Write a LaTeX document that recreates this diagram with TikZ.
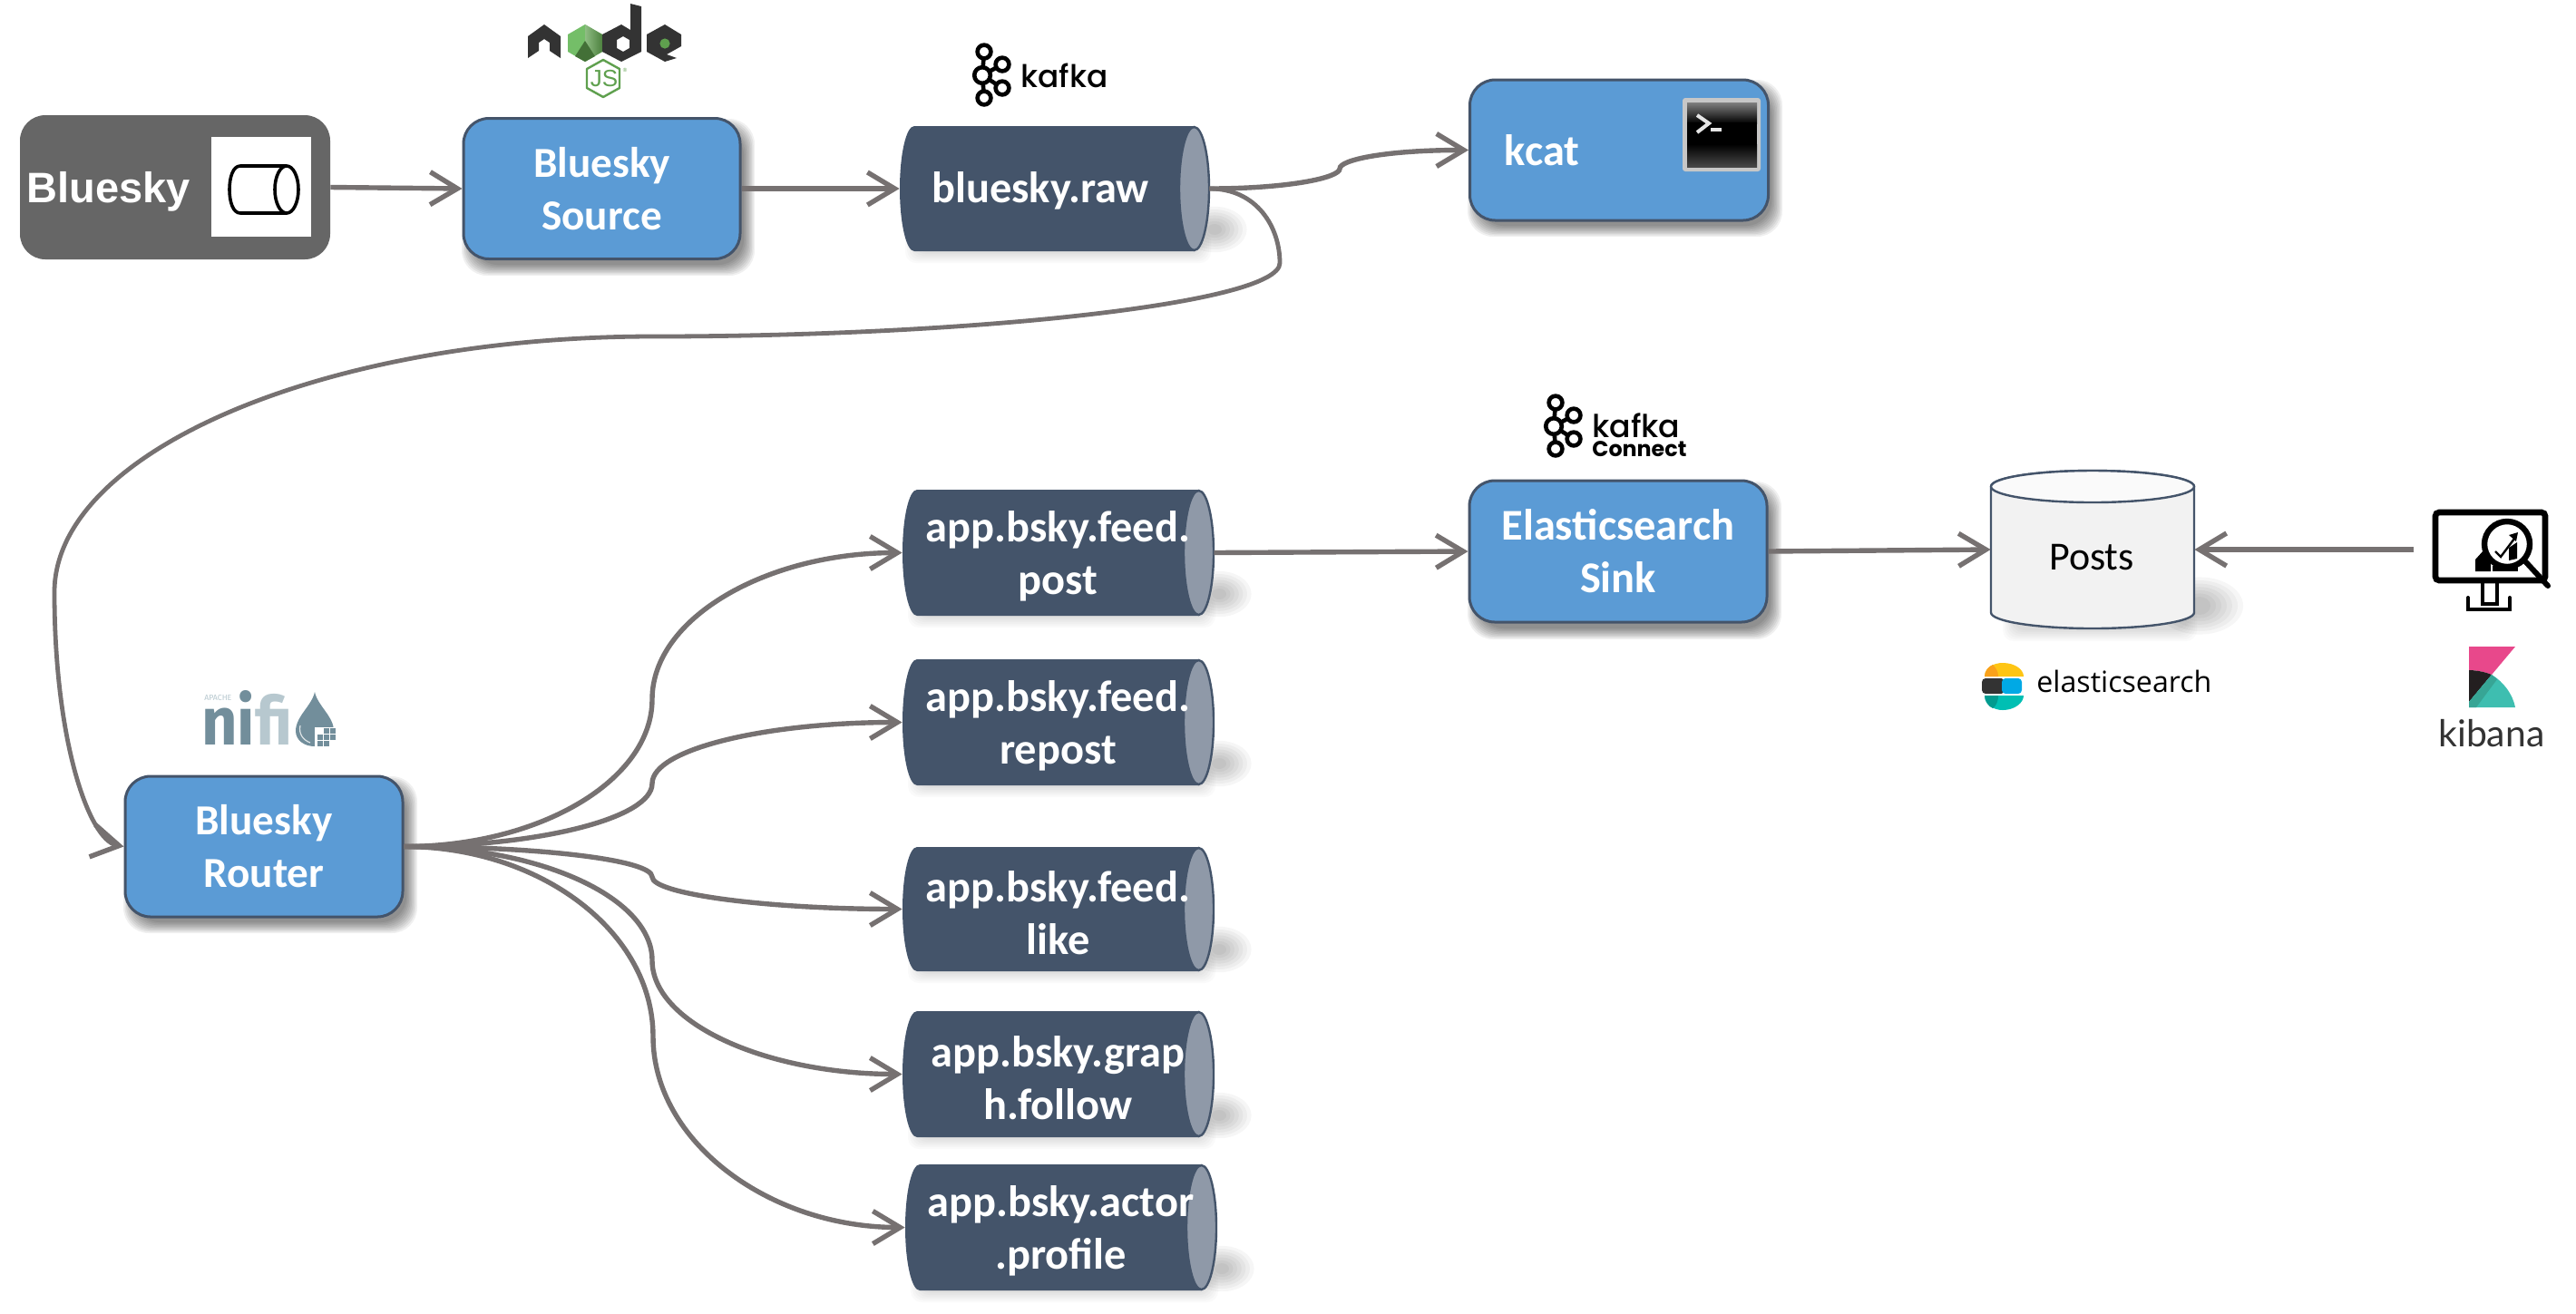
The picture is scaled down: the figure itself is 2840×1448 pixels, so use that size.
\documentclass[tikz,border=0pt]{standalone}
\usepackage{fontspec}
\usepackage{graphicx}
\usetikzlibrary{arrows.meta}
\newfontfamily\calfont{Carlito}
\newfontfamily\arialfont{Liberation Sans}
\newfontfamily\popfont{Poppins}[UprightFont=* Medium]
\newfontfamily\popboldfont{Poppins}
\newfontfamily\opfont{Open Sans}
\newfontfamily\firafont{Fira Sans}
\newfontfamily\latofont{Lato}
\definecolor{boxblue}{HTML}{5B9BD5}
\definecolor{slate}{HTML}{44546A}
\definecolor{capgrey}{HTML}{8F99A8}
\definecolor{linegrey}{HTML}{767171}
\definecolor{dbgrey}{HTML}{F2F2F2}
\definecolor{nifidark}{HTML}{728E9B}
\definecolor{nifilight}{HTML}{B7C8CF}
\definecolor{nodeblack}{HTML}{333333}
\definecolor{nodegreen}{HTML}{5FA04E}
\definecolor{esyellow}{HTML}{FEC514}
\definecolor{esorange}{HTML}{F9A11B}
\definecolor{esblue}{HTML}{00A9E5}
\definecolor{esteal}{HTML}{00BFB3}
\definecolor{esdeep}{HTML}{019B8F}
\definecolor{kbpink}{HTML}{E8488B}
\definecolor{kbteal}{HTML}{3EBEB0}
\definecolor{kbmix}{HTML}{37A595}
\definecolor{kbdark}{HTML}{231F20}
\tikzset{
  conn/.style={draw=linegrey,line width=2.7pt,-{Straight Barb[length=15pt,width=18pt,line width=2.7pt]}},
  bluebox/.style={draw=slate,fill=boxblue,line width=1.5pt,rounded corners=14pt,inner sep=0pt,align=center,text=white,font=\calfont\bfseries\fontsize{23.6}{29}\selectfont},
  greybox/.style={fill=black!60,rounded corners=14pt,inner sep=0pt},
  cyltext/.style={inner sep=0pt,align=center,text=white,font=\calfont\bfseries\fontsize{24.2}{29}\selectfont},
  cylbody/.style={fill=slate},
  cylcap/.style={draw=slate,fill=capgrey,line width=1.2pt},
  logotext/.style={inner sep=0pt,anchor=base west,text=black},
}
% soft shadow of a rounded box
\newcommand{\softbox}[4]{%
  \foreach \d in {12,10.5,...,0}{%
    \fill[black,opacity=.06,rounded corners=14pt] (#1+10-\d,#2+12-\d) rectangle (#3+4+\d,#4+6+\d);}}
% horizontal cylinder: name, x1, y1, x2, y2, text
\newcommand{\cyl}[6]{%
  \pgfmathsetmacro\cyy{(#3+#5)/2}%
  \pgfmathsetmacro\cxx{(#2+#4)/2}%
  \pgfmathsetmacro\ryy{(#5-#3)/2}%
  \pgfmathsetmacro\wpt{(#4-#2)/2}%
  \pgfmathsetmacro\hpt{(#5-#3)/2}%
  \foreach \d in {12,10,...,0}{%
    \fill[black,opacity=.02,rounded corners=6pt] (#2+18-\d,#5-12-\d) rectangle (#4-10+\d,#5+1+\d);
    \fill[black,opacity=.035] (#4+6,#5-24) ellipse [x radius=4pt+1.15*\d pt,y radius=3pt+.8*\d pt];}
  \fill[cylbody] (#2+16,#3) -- (#4-16.5,#3) -- (#4-16.5,#5) -- (#2+16,#5)
    .. controls (#2+7,#5) and (#2,\cyy+.55*\ryy) .. (#2,\cyy)
    .. controls (#2,\cyy-.55*\ryy) and (#2+7,#3) .. (#2+16,#3) -- cycle;
  \draw[cylcap] (#4-16.5,\cyy) ellipse [x radius=8.25pt,y radius=\ryy/2*1pt-0.5pt];
  \node[inner sep=0pt,minimum width=\wpt pt,minimum height=\hpt pt] (#1) at (\cxx,\cyy) {};
  \node[cyltext] (#1text) at (\cxx,\cyy+4) {#6};
}
% curved connector from the router, through a mid point, to a topic
\newcommand{\fan}[4]{%
  \coordinate (#2) at (#3,#4);
  \pgfmathsetmacro\dl{.55*(933-#4)}%
  \draw[conn] (router.east) .. controls +(150,0) and +(0,\dl) .. (#2)
     .. controls +(0,-\dl) and +(-150,0) .. (#1.west);
}
\newcommand{\kafkalogo}{%
  \draw[line width=2.3pt] (10,33) -- (12,7) (10,33) -- (32,21) (10,33) -- (32,47) (10,33) -- (12,58);
  \draw[line width=2.3pt,fill=white] (12,7) circle [radius=3.7pt];
  \draw[line width=2.3pt,fill=white] (32,21) circle [radius=3.7pt];
  \draw[line width=2.3pt,fill=white] (10,33) circle [radius=4.4pt];
  \draw[line width=2.3pt,fill=white] (32,47) circle [radius=3.7pt];
  \draw[line width=2.3pt,fill=white] (12,58) circle [radius=3.7pt];
}
\begin{document}
\begin{tikzpicture}[x=0.5pt,y=-0.5pt]
\useasboundingbox (0,0) rectangle (2840,1448);
\fill[white] (0,0) rectangle (2840,1448);

% ---------- shadows of boxes
\softbox{511}{131}{816}{286}
\softbox{1620}{88}{1949}{243}
\softbox{138}{856}{444}{1011}
\softbox{1620}{531}{1948}{687}

% ---------- Bluesky source
\node[greybox,minimum width=171pt,minimum height=79.5pt] (bluesky) at (193,206.5) {};
\node[inner sep=0pt,text=white,font=\arialfont\bfseries\fontsize{23.5}{28}\selectfont] (blueskytext) at (120,211) {Bluesky};
\fill[white] (233,151) rectangle (343,261);
\draw[black,line width=1.8pt,fill=white] (316,183) -- (265,183) .. controls (257,183) and (253,195) .. (253,209)
   .. controls (253,223) and (257,235) .. (265,235) -- (316,235);
\draw[black,line width=1.8pt,fill=white] (316,209) ellipse [x radius=6.5pt,y radius=13pt];

\node[bluebox,minimum width=152.5pt,minimum height=77.5pt] (source) at (663.5,208) {Bluesky\\Source};
\cyl{raw}{992}{139}{1333}{277}{}
\node[cyltext] (rawlabel) at (1147,210) {bluesky.raw};
\node[bluebox,minimum width=164.5pt,minimum height=77.5pt] (kcat) at (1785,165.5) {};
\node[inner sep=0pt,text=white,font=\calfont\bfseries\fontsize{24.2}{29}\selectfont] (kcatlabel) at (1700,166) {kcat};

% terminal icon
\fill[black!22,rounded corners=1.5pt] (1855,108) rectangle (1941,189);
\shade[top color=black!50,bottom color=black] (1860,113) rectangle (1937,136);
\fill[black] (1860,135) rectangle (1937,160);
\shade[top color=black,bottom color=black!72] (1860,159) rectangle (1937,184);
\draw[white!90!black,line width=2pt] (1871,127) -- (1884,136) -- (1871,146);
\fill[white!90!black] (1886,141) rectangle (1898,145);

% Router
\node[bluebox,minimum width=153pt,minimum height=77.5pt] (router) at (291,933.5) {Bluesky\\Router};

% topics
\cyl{post}{995}{540}{1338}{679}{app.bsky.feed.\\post}
\cyl{repost}{995}{727}{1338}{866}{app.bsky.feed.\\repost}
\cyl{like}{995}{934}{1338}{1071}{app.bsky.feed.\\like}
\cyl{follow}{995}{1115}{1338}{1254}{app.bsky.grap\\h.follow}
\cyl{profile}{998}{1284}{1341}{1423}{app.bsky.actor\\.profile}

% sink
\node[bluebox,font=\calfont\bfseries\fontsize{24.2}{29}\selectfont,minimum width=164pt,minimum height=78pt] (sink) at (1784,608) {Elasticsearch\\Sink};

% Posts database
\foreach \d in {12,10,...,0}{%
  \fill[black,opacity=.02,rounded corners=6pt] (2220-\d,680-\d) rectangle (2410+\d,695+\d);
  \fill[black,opacity=.035] (2425,668) ellipse [x radius=6pt+1.5*\d pt,y radius=5pt+.9*\d pt];}
\draw[draw=slate,fill=dbgrey,line width=1.2pt] (2195,536.5) -- (2195,675.5)
  arc[start angle=180,end angle=360,x radius=56pt,y radius=8.75pt]
  -- (2419,536.5) arc[start angle=0,end angle=180,x radius=56pt,y radius=8.75pt] -- cycle;
\draw[draw=slate,fill=white!60!dbgrey,line width=1.2pt] (2307,536.5) ellipse [x radius=56pt,y radius=8.75pt];
\node[inner sep=0pt,minimum width=112pt,minimum height=87pt] (posts) at (2307,606) {};
\node[inner sep=0pt,text=black,font=\calfont\fontsize{22}{26}\selectfont] (postslabel) at (2306,615) {Posts};

% monitor (kibana)
\coordinate (kibanaout) at (2661,606);
\draw[black,line width=3.3pt,rounded corners=2pt,fill=white] (2685,565) rectangle (2806,640);
\draw[black,line width=2pt] (2737,641) -- (2737,666) -- (2753,666) -- (2753,641);
\draw[black,line width=2pt,line cap=round] (2721,659) -- (2721,672) -- (2767,672) -- (2767,659);
\fill[black] (2729,630) -- (2729,617) -- (2738,607) -- (2746,615) -- (2746,630) -- cycle;
\fill[black] (2748,624) rectangle (2776,630);
\draw[black,line width=3pt,line cap=round] (2784,619) -- (2809,646);
\draw[black,line width=3.2pt,fill=white] (2764,600) circle [radius=12.5pt];
\draw[black,line width=1.2pt] (2751,608) -- (2757,614) -- (2772,594);
\fill[black] (2776,587) -- (2766,590) -- (2774,597) -- cycle;
\fill[black] (2766,604) -- (2775,598) -- (2775,616) -- (2766,618) -- cycle;

% ---------- connectors
\draw[conn] (bluesky.east) -- (source.west);
\draw[conn] (source.east) -- (raw.west);
\coordinate (kc) at (1477,186);
\draw[conn] (raw.east) .. controls +(87,0) and +(0,10) .. (kc) .. controls +(0,-10) and +(-90,0) .. (kcat.west);
\coordinate (r1) at (1411,290);
\coordinate (r2) at (721,371);
\coordinate (r3) at (60,653);
\draw[conn,line width=2.4pt] (raw.east) .. controls +(52,0) and +(0,-40) .. (r1)
   .. controls +(0,45) and +(345,0) .. (r2)
   .. controls +(-364,0) and +(0,-155) .. (r3)
   .. controls +(0,165) and +(-38,-7) .. (router.west);
\fan{post}{k1}{719}{771}
\fan{repost}{k2}{719}{864}
\fan{like}{k3}{719}{967}
\fan{follow}{k4}{719}{1059}
\fan{profile}{k5}{720}{1143}
\draw[conn] (post.east) -- (sink.west);
\draw[conn] (sink.east) -- (posts.west);
\draw[conn] (kibanaout) -- (posts.east);

% ---------- logos
% node.js
\fill[nodeblack] (582,40) -- (600,27) -- (618,40) -- (618,64) -- (606,56) -- (606,47) -- (600,43) -- (594,47) -- (594,56) -- (582,64) -- cycle;
\fill[nodegreen!85!green!80!white] (645,27) -- (664,38) -- (664,57) -- (645,68) -- (626,57) -- (626,38) -- cycle;
\shade[left color=nodegreen!70!white,right color=nodegreen!80!black] (645,27) -- (664,38) -- (664,57) -- (645,68) -- cycle;
\fill[nodegreen!70!black] (645,45) -- (634,62) -- (645,68) -- (656,62) -- cycle;
\fill[nodeblack,even odd rule] (707,7) -- (707,57) -- (685,68) -- (664,57) -- (664,38) -- (685,27) -- (695,33) -- (695,4) -- cycle
   (687,40) -- (694,44) -- (694,53) -- (687,57) -- (680,53) -- (680,44) -- cycle;
\fill[nodeblack] (733,27) -- (751,38) -- (751,51) -- (735,60) -- (746,64) -- (733,68) -- (713,57) -- (713,38) -- cycle;
\fill[nodegreen] (733,48) circle [radius=2.8pt];
\draw[nodegreen,line width=1.2pt,line join=round] (665,66) -- (683,76) -- (683,97) -- (665,107) -- (647,97) -- (647,76) -- cycle;
\node[inner sep=0pt,text=nodegreen,font=\arialfont\fontsize{13}{13}\selectfont] (jstext) at (666,87) {JS};
\node[inner sep=0pt,text=nodegreen,font=\arialfont\fontsize{3}{3}\selectfont] (regmark) at (689,77) {®};

% kafka
\begin{scope}[shift={(1073,50)}]\kafkalogo\end{scope}
\node[logotext] (kafkatext) at (1125,96) {\resizebox{48pt}{!}{\popfont kafka}};
\begin{scope}[shift={(1703,437)}]\kafkalogo\end{scope}
\node[logotext] (kafkatwo) at (1755,482) {\resizebox{48.5pt}{!}{\popfont kafka}};
\node[logotext] (connecttext) at (1755,503) {\resizebox{52pt}{!}{\popboldfont\bfseries Connect}};

% nifi
\node[logotext] (nifitext) at (222,821) {\resizebox{50pt}{30pt}{\firafont\bfseries\textcolor{nifidark}{ni}\textcolor{nifilight}{fi}}};
\node[logotext] (apache) at (225,772) {\resizebox{15pt}{!}{\firafont\textcolor{nifilight}{APACHE}}};
\fill[nifidark] (347,763) .. controls (344,778) and (326,790) .. (326,806) .. controls (326,816) and (335,823) .. (347,823)
   .. controls (359,823) and (368,816) .. (368,806) .. controls (368,790) and (350,778) .. (347,763) -- cycle;
\draw[white!75!nifidark,line width=.6pt] (331,800) .. controls (329,809) and (334,816) .. (342,819);
\fill[white] (347,802) rectangle (370,825);
\foreach \gx/\gy in {357/803,364/803,350/810,357/810,364/810,350/817,357/817}{%
  \fill[nifidark] (\gx,\gy) rectangle +(5.5,5.5);}

% elasticsearch
\fill[esyellow] (2188,746) .. controls (2188,736) and (2198,731) .. (2208,731) .. controls (2221,731) and (2231,738) .. (2231,746) -- cycle;
\fill[esorange] (2188,746) .. controls (2188,740) and (2192,735) .. (2197,733) .. controls (2201,737) and (2203,741) .. (2203,746) -- cycle;
\fill[nodeblack,rounded corners=2pt] (2185,748) rectangle (2210,765);
\fill[nodeblack] (2200,748) rectangle (2207,765);
\fill[esblue,rounded corners=2pt] (2207,748) rectangle (2229,765);
\fill[esteal] (2188,767) -- (2231,767) .. controls (2231,775) and (2221,783) .. (2208,783) .. controls (2198,783) and (2188,777) .. (2188,767) -- cycle;
\fill[esdeep] (2188,767) -- (2203,767) .. controls (2203,773) and (2201,778) .. (2197,781) .. controls (2192,779) and (2188,773) .. (2188,767) -- cycle;
\node[logotext] (esname) at (2245,763) {\resizebox{96.5pt}{!}{\opfont elasticsearch}};

% kibana
\fill[kbpink] (2722,713) -- (2773,713) -- (2747,744) .. controls (2740,741) and (2730,739) .. (2722,739) -- cycle;
\fill[kbdark] (2722,739) .. controls (2730,739) and (2740,741) .. (2747,744) -- (2722,774) -- cycle;
\fill[kbteal] (2747,744) .. controls (2760,752) and (2770,765) .. (2773,780) -- (2722,780) -- (2722,774) -- cycle;
\fill[kbmix] (2747,744) -- (2753,749) -- (2730,780) -- (2722,780) -- (2722,774) -- cycle;
\node[logotext,text=black!80] (kibanatext) at (2688,823) {\resizebox{58.5pt}{!}{\latofont kibana}};
\end{tikzpicture}
\end{document}
